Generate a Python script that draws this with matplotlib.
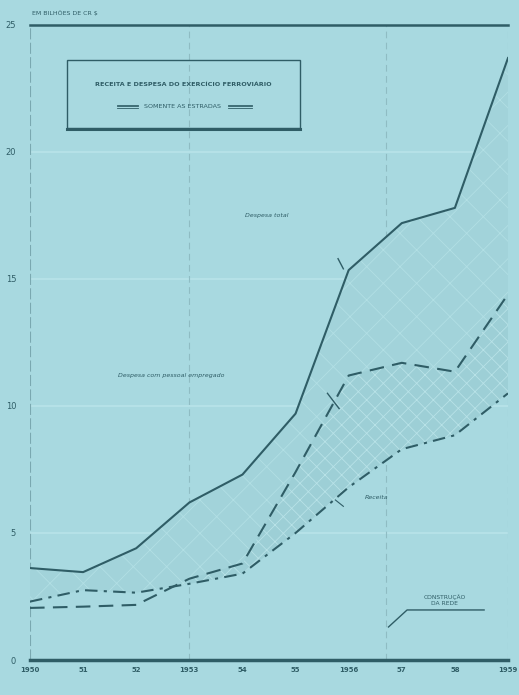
import matplotlib
matplotlib.use("Agg")
import matplotlib.pyplot as plt
import numpy as np

years = [1950, 1951, 1952, 1953, 1954, 1955, 1956, 1957, 1958, 1959]
tick_labels = ["1950", "51", "52", "1953", "54", "55", "1956", "57", "58", "1959"]
despesa_total = [3.62, 3.46, 4.4, 6.2, 7.3, 9.7, 15.35, 17.2, 17.8, 23.7]
despesa_pessoal = [2.05, 2.1, 2.17, 3.2, 3.8, 7.4, 11.2, 11.7, 11.35, 14.4]
receita = [2.3, 2.75, 2.65, 3.0, 3.4, 5.0, 6.8, 8.3, 8.85, 10.5]
y_ticks = [0, 5, 10, 15, 20, 25]

bg = "#a8d9e0"
ink = "#2f5d66"
faint = "#b8e3e9"
plt.rcParams["hatch.linewidth"] = 0.6

fig = plt.figure(figsize=(5.19, 6.95), dpi=100, facecolor=bg)
ax = fig.add_axes([30/519, 1-660/695, 478/519, 635/695])
ax.set_facecolor(bg)
ax.set_xlim(1950, 1959)
ax.set_ylim(0, 25)

# faint grid
for yv in [5, 10, 15, 20]:
    ax.axhline(yv, color=faint, lw=1.2, zorder=0)
for xv in [1953, 1956.7, 1959]:
    ax.axvline(xv, color="#8fbcc3", lw=0.8, ls=(0, (6, 4)), zorder=0)

# shading
ax.fill_between(years, despesa_total, receita, facecolor="#a2d3da", edgecolor="#b2dfe4",
                hatch="x", linewidth=0, zorder=1)
ax.fill_between(years, despesa_pessoal, receita, where=[p >= r for p, r in zip(despesa_pessoal, receita)],
                facecolor="#9dcfd6", edgecolor="#b8e2e7", hatch="xx", linewidth=0, zorder=1)

ax.plot(years, despesa_total, color=ink, lw=1.5, zorder=3)
ax.plot(years, despesa_pessoal, color=ink, lw=1.5, ls=(0, (7, 4)), zorder=3)
ax.plot(years, receita, color=ink, lw=1.5, ls=(0, (6, 3, 1.5, 3)), zorder=3)

for s in ["left", "right"]:
    ax.spines[s].set_visible(False)
ax.spines["top"].set_color(ink)
ax.spines["top"].set_linewidth(1.8)
ax.spines["bottom"].set_color(ink)
ax.spines["bottom"].set_linewidth(2.5)
ax.axvline(1950, color="#7aa8b0", lw=0.8, ls=(0, (10, 3)), zorder=0)

ax.set_yticks(y_ticks)
ax.set_yticklabels([str(v) for v in y_ticks], fontsize=6, color=ink)
ax.set_xticks(years)
ax.set_xticklabels(tick_labels, fontsize=5, color=ink, fontweight="bold")
ax.tick_params(length=0, pad=5)
ax.tick_params(axis="y", pad=10)

fig.text(32/519, 1-13/695, "EM BILHÕES DE CR $", fontsize=4.5, color=ink, va="center")

# title box
box = plt.Rectangle((67/519, 1-128/695), (300-67)/519, (128-60)/695, transform=fig.transFigure,
                    facecolor="none", edgecolor=ink, lw=1.0)
fig.add_artist(box)
fig.add_artist(plt.Line2D([67/519, 300/519], [1-129/695]*2, transform=fig.transFigure, color=ink, lw=2.2))
fig.text(183/519, 1-84/695, "RECEITA E DESPESA DO EXERCÍCIO FERROVIÁRIO", fontsize=4.6,
         color=ink, ha="center", va="center", fontweight="bold")
fig.text(183/519, 1-106/695, "SOMENTE AS ESTRADAS", fontsize=4.6,
         color=ink, ha="center", va="center")
for x0, x1 in [(117, 138), (228, 252)]:
    for dy in [-1.5, 0, 1.5]:
        fig.add_artist(plt.Line2D([x0/519, x1/519], [1-(106+dy)/695]*2, transform=fig.transFigure,
                                  color=ink, lw=0.6))

# labels
ax.text(1954.05, 17.5, "Despesa total", fontsize=4.5, color=ink, style="italic", ha="left", va="center")
ax.plot([1955.8, 1955.9], [15.8, 15.4], color=ink, lw=1)
ax.text(1951.65, 11.2, "Despesa com pessoal empregado", fontsize=4.5, color=ink, style="italic",
        ha="left", va="center")
ax.plot([1955.6, 1955.82], [10.5, 9.9], color=ink, lw=1)
ax.text(1956.3, 6.4, "Receita", fontsize=4.5, color=ink, style="italic", ha="left", va="center")
ax.plot([1955.75, 1955.9], [6.3, 6.05], color=ink, lw=0.8)
ax.text(1957.8, 2.35, "CONSTRUÇÃO\nDA REDE", fontsize=4.3, color=ink, ha="center", va="center",
        linespacing=1.3)
ax.plot([1956.75, 1957.1, 1958.55], [1.3, 1.97, 1.97], color=ink, lw=1)

fig.savefig("out.png", dpi=100, facecolor=bg)
